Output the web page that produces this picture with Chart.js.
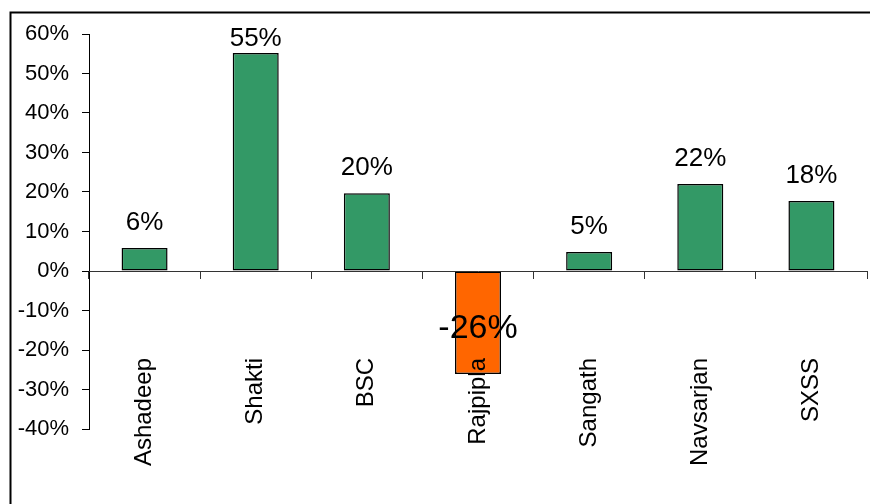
<!DOCTYPE html>
<html>
<head>
<meta charset="utf-8">
<script src="https://cdn.jsdelivr.net/npm/chart.js@4.4.0/dist/chart.umd.min.js"></script>
<style>
  html, body { margin: 0; padding: 0; background: #fff; }
  canvas { display: block; }
</style>
</head>
<body>
<canvas id="c" width="870" height="504"></canvas>
<script>
// ---- data ----
const categories = ['Ashadeep', 'Shakti', 'BSC', 'Rajpipla', 'Sangath', 'Navsarjan', 'SXSS'];
const growth = [0.058, 0.552, 0.197, -0.261, 0.048, 0.22, 0.177];
const yTickMin = -0.4;
const yTickMax = 0.6;
const yTickStep = 0.1;

const FONT = "'Liberation Sans', Arial, Helvetica, sans-serif";
const GREEN = '#339966';
const ORANGE = '#FF6600';
const barColors = growth.map(v => v < 0 ? ORANGE : GREEN);
const pct = v => Math.round(v * 100) + '%';

const frame = {
  id: 'frame',
  afterDraw(chart) {
    const ctx = chart.ctx;
    ctx.save();
    ctx.strokeStyle = '#000';
    ctx.lineWidth = 2;
    ctx.beginPath();
    ctx.moveTo(10.5, 504);
    ctx.lineTo(10.5, 12.5);
    ctx.lineTo(870, 12.5);
    ctx.stroke();
    ctx.restore();
  }
};

const valueLabels = {
  id: 'valueLabels',
  afterDatasetsDraw(chart) {
    const ctx = chart.ctx;
    const meta = chart.getDatasetMeta(0);
    ctx.save();
    ctx.fillStyle = '#000';
    ctx.textAlign = 'center';
    ctx.textBaseline = 'alphabetic';
    meta.data.forEach((el, i) => {
      const v = growth[i];
      let y;
      if (v >= 0) {
        ctx.font = '26px ' + FONT;
        y = Math.max(el.y - 18, chart.chartArea.top + 12);
      } else {
        ctx.font = '34px ' + FONT;
        y = (el.y + el.base) / 2 + 15;
      }
      ctx.fillText(pct(v), el.x, y);
    });
    ctx.restore();
  }
};

new Chart(document.getElementById('c'), {
  type: 'bar',
  data: {
    labels: categories,
    datasets: [{
      data: growth,
      backgroundColor: barColors,
      borderColor: '#000',
      borderWidth: 1.5,
      borderSkipped: false,
      categoryPercentage: 1,
      barPercentage: 0.414
    }]
  },
  options: {
    responsive: false,
    animation: false,
    devicePixelRatio: 1,
    layout: { padding: { left: 10, top: 34, right: 3, bottom: 75 } },
    plugins: { legend: { display: false }, tooltip: { enabled: false } },
    scales: {
      x: {
        position: { y: 0 },
        offset: true,
        afterFit: s => { s.paddingLeft = 0; s.paddingRight = 0; },
        grid: { display: true, drawOnChartArea: false, offset: true, tickLength: 7, color: '#333', z: 1 },
        border: { display: true, color: '#333', width: 1, z: 1 },
        ticks: {
          autoSkip: false, minRotation: 90, maxRotation: 90, padding: 80,
          color: '#000', font: { family: FONT, size: 24 }, z: 1
        }
      },
      y: {
        min: yTickMin,
        max: yTickMax,
        afterFit: s => { s.width = 79; },
        grid: { drawOnChartArea: false, tickLength: 7, color: '#000' },
        border: { display: true, color: '#000', width: 1 },
        ticks: {
          stepSize: yTickStep,
          padding: 13,
          color: '#000',
          font: { family: FONT, size: 22 },
          callback: v => pct(v)
        }
      }
    }
  },
  plugins: [frame, valueLabels]
});
</script>
</body>
</html>
